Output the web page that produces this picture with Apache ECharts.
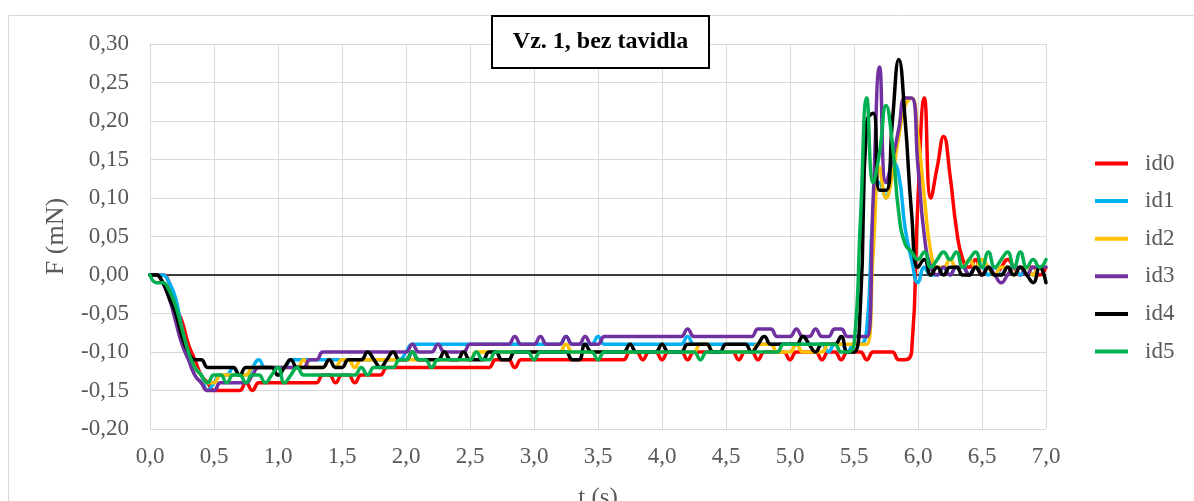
<!DOCTYPE html>
<html>
<head>
<meta charset="utf-8">
<script src="https://cdn.jsdelivr.net/npm/echarts@6/dist/echarts.min.js"></script>
<style>
html,body{margin:0;padding:0;background:#ffffff;}
#chart{width:1194px;height:501px;}
</style>
</head>
<body>
<div id="chart"></div>
<script>
const chartTitle = 'Vz. 1, bez tavidla';
const xAxisName = 't (s)';
const yAxisName = 'F (mN)';
const seriesNames = ['id0', 'id1', 'id2', 'id3', 'id4', 'id5'];
const seriesColors = ['#FF0000', '#00B0F0', '#FFC000', '#7030A0', '#000000', '#00B050'];

const timeS = [
  0, 0.05, 0.1, 0.15, 0.2, 0.25, 0.3, 0.35, 0.4, 0.45,
  0.5, 0.55, 0.6, 0.65, 0.7, 0.75, 0.8, 0.85, 0.9, 0.95,
  1, 1.05, 1.1, 1.15, 1.2, 1.25, 1.3, 1.35, 1.4, 1.45,
  1.5, 1.55, 1.6, 1.65, 1.7, 1.75, 1.8, 1.85, 1.9, 1.95,
  2, 2.05, 2.1, 2.15, 2.2, 2.25, 2.3, 2.35, 2.4, 2.45,
  2.5, 2.55, 2.6, 2.65, 2.7, 2.75, 2.8, 2.85, 2.9, 2.95,
  3, 3.05, 3.1, 3.15, 3.2, 3.25, 3.3, 3.35, 3.4, 3.45,
  3.5, 3.55, 3.6, 3.65, 3.7, 3.75, 3.8, 3.85, 3.9, 3.95,
  4, 4.05, 4.1, 4.15, 4.2, 4.25, 4.3, 4.35, 4.4, 4.45,
  4.5, 4.55, 4.6, 4.65, 4.7, 4.75, 4.8, 4.85, 4.9, 4.95,
  5, 5.05, 5.1, 5.15, 5.2, 5.25, 5.3, 5.35, 5.4, 5.45,
  5.5, 5.55, 5.6, 5.65, 5.7, 5.75, 5.8, 5.85, 5.9, 5.95,
  6, 6.05, 6.1, 6.15, 6.2, 6.25, 6.3, 6.35, 6.4, 6.45,
  6.5, 6.55, 6.6, 6.65, 6.7, 6.75, 6.8, 6.85, 6.9, 6.95,
  7
];

const id0 = [
  0, 0, 0, -0.01, -0.04, -0.06, -0.09, -0.11, -0.13, -0.14,
  -0.15, -0.15, -0.15, -0.15, -0.15, -0.14, -0.15, -0.14, -0.14, -0.14,
  -0.14, -0.14, -0.14, -0.14, -0.14, -0.14, -0.14, -0.13, -0.13, -0.14,
  -0.13, -0.13, -0.14, -0.13, -0.13, -0.13, -0.13, -0.12, -0.12, -0.12,
  -0.12, -0.12, -0.12, -0.12, -0.12, -0.12, -0.12, -0.12, -0.12, -0.12,
  -0.12, -0.12, -0.12, -0.12, -0.11, -0.11, -0.11, -0.12, -0.11, -0.11,
  -0.11, -0.11, -0.11, -0.11, -0.11, -0.11, -0.11, -0.11, -0.11, -0.11,
  -0.11, -0.11, -0.11, -0.11, -0.11, -0.10, -0.10, -0.11, -0.10, -0.10,
  -0.11, -0.10, -0.10, -0.10, -0.11, -0.10, -0.10, -0.10, -0.10, -0.10,
  -0.10, -0.10, -0.11, -0.10, -0.10, -0.11, -0.10, -0.10, -0.10, -0.10,
  -0.11, -0.10, -0.10, -0.10, -0.10, -0.11, -0.10, -0.10, -0.11, -0.10,
  -0.10, -0.10, -0.11, -0.10, -0.10, -0.10, -0.10, -0.11, -0.11, -0.10,
  0.10, 0.23, 0.10, 0.14, 0.18, 0.13, 0.06, 0.02, 0.01, 0.02,
  0.00, 0.01, 0.00, 0.01, 0.02, 0.01, 0.00, 0.01, 0.01, 0.00,
  0.01
];

const id1 = [
  0, 0, 0, -0.01, -0.03, -0.07, -0.10, -0.12, -0.13, -0.15,
  -0.14, -0.13, -0.13, -0.12, -0.13, -0.13, -0.12, -0.11, -0.12, -0.12,
  -0.12, -0.12, -0.11, -0.11, -0.11, -0.11, -0.11, -0.11, -0.11, -0.11,
  -0.11, -0.11, -0.11, -0.11, -0.11, -0.11, -0.11, -0.11, -0.11, -0.11,
  -0.10, -0.09, -0.09, -0.09, -0.09, -0.09, -0.09, -0.09, -0.09, -0.09,
  -0.09, -0.09, -0.09, -0.09, -0.09, -0.09, -0.09, -0.09, -0.09, -0.09,
  -0.09, -0.09, -0.09, -0.09, -0.09, -0.08, -0.09, -0.09, -0.09, -0.09,
  -0.08, -0.09, -0.09, -0.09, -0.09, -0.09, -0.09, -0.09, -0.09, -0.09,
  -0.09, -0.09, -0.09, -0.09, -0.08, -0.09, -0.09, -0.09, -0.09, -0.09,
  -0.09, -0.09, -0.09, -0.09, -0.09, -0.09, -0.09, -0.09, -0.09, -0.09,
  -0.09, -0.09, -0.09, -0.09, -0.09, -0.09, -0.10, -0.09, -0.09, -0.10,
  -0.09, -0.09, -0.07, 0.08, 0.12, 0.10, 0.15, 0.13, 0.06, 0.02,
  -0.01, 0.01, 0.00, 0.00, 0.01, 0.00, 0.01, 0.01, 0.00, 0.01,
  0.01, 0.00, 0.01, 0.00, 0.01, 0.01, 0.00, 0.01, 0.00, 0.01,
  0.01
];

const id2 = [
  0, 0, -0.01, -0.02, -0.05, -0.08, -0.10, -0.12, -0.13, -0.14,
  -0.14, -0.13, -0.13, -0.13, -0.13, -0.13, -0.12, -0.12, -0.12, -0.12,
  -0.12, -0.12, -0.12, -0.12, -0.11, -0.12, -0.12, -0.12, -0.11, -0.12,
  -0.11, -0.11, -0.12, -0.11, -0.11, -0.11, -0.11, -0.11, -0.11, -0.11,
  -0.11, -0.11, -0.11, -0.11, -0.11, -0.11, -0.11, -0.11, -0.11, -0.11,
  -0.11, -0.10, -0.10, -0.10, -0.10, -0.10, -0.10, -0.10, -0.10, -0.10,
  -0.10, -0.10, -0.10, -0.10, -0.10, -0.09, -0.10, -0.10, -0.10, -0.10,
  -0.10, -0.10, -0.10, -0.10, -0.10, -0.10, -0.10, -0.10, -0.10, -0.10,
  -0.10, -0.10, -0.10, -0.10, -0.10, -0.10, -0.09, -0.09, -0.10, -0.10,
  -0.10, -0.10, -0.10, -0.10, -0.10, -0.09, -0.09, -0.09, -0.10, -0.10,
  -0.10, -0.09, -0.10, -0.10, -0.10, -0.10, -0.09, -0.09, -0.09, -0.09,
  -0.09, -0.09, -0.09, 0.03, 0.14, 0.10, 0.13, 0.18, 0.22, 0.23,
  0.18, 0.10, 0.03, 0.01, 0.01, 0.02, 0.01, 0.01, 0.02, 0.01,
  0.02, 0.01, 0.00, 0.01, 0.01, 0.00, 0.01, 0.01, 0.00, 0.01,
  0.01
];

const id3 = [
  0, 0, -0.01, -0.03, -0.06, -0.09, -0.11, -0.13, -0.14, -0.15,
  -0.15, -0.14, -0.14, -0.14, -0.14, -0.14, -0.13, -0.12, -0.12, -0.12,
  -0.12, -0.12, -0.12, -0.12, -0.12, -0.11, -0.11, -0.10, -0.10, -0.10,
  -0.10, -0.10, -0.10, -0.10, -0.10, -0.10, -0.10, -0.10, -0.10, -0.10,
  -0.10, -0.09, -0.10, -0.10, -0.10, -0.09, -0.10, -0.10, -0.10, -0.10,
  -0.09, -0.09, -0.09, -0.09, -0.09, -0.09, -0.09, -0.08, -0.09, -0.09,
  -0.09, -0.08, -0.09, -0.09, -0.09, -0.08, -0.09, -0.09, -0.08, -0.09,
  -0.09, -0.08, -0.08, -0.08, -0.08, -0.08, -0.08, -0.08, -0.08, -0.08,
  -0.08, -0.08, -0.08, -0.08, -0.07, -0.08, -0.08, -0.08, -0.08, -0.08,
  -0.08, -0.08, -0.08, -0.08, -0.08, -0.07, -0.07, -0.07, -0.08, -0.08,
  -0.08, -0.07, -0.08, -0.08, -0.07, -0.08, -0.08, -0.07, -0.07, -0.08,
  -0.08, -0.08, -0.08, 0.10, 0.27, 0.12, 0.15, 0.19, 0.23, 0.23,
  0.14, 0.05, 0.01, 0.00, 0.01, 0.00, 0.01, 0.01, 0.00, 0.01,
  0.00, 0.01, 0.00, -0.01, 0.00, 0.01, 0.01, 0.00, 0.01, 0.01,
  0.01
];

const id4 = [
  0, 0, -0.01, -0.03, -0.05, -0.08, -0.10, -0.11, -0.11, -0.12,
  -0.12, -0.12, -0.12, -0.12, -0.13, -0.12, -0.12, -0.12, -0.12, -0.12,
  -0.13, -0.12, -0.11, -0.12, -0.12, -0.12, -0.12, -0.12, -0.11, -0.12,
  -0.12, -0.11, -0.11, -0.11, -0.10, -0.11, -0.12, -0.11, -0.10, -0.11,
  -0.11, -0.10, -0.11, -0.11, -0.11, -0.11, -0.10, -0.11, -0.11, -0.10,
  -0.11, -0.11, -0.11, -0.10, -0.10, -0.11, -0.11, -0.10, -0.10, -0.10,
  -0.10, -0.10, -0.10, -0.10, -0.10, -0.10, -0.11, -0.11, -0.09, -0.10,
  -0.10, -0.10, -0.10, -0.10, -0.10, -0.09, -0.10, -0.10, -0.10, -0.10,
  -0.09, -0.10, -0.10, -0.10, -0.09, -0.09, -0.09, -0.09, -0.10, -0.10,
  -0.09, -0.09, -0.09, -0.09, -0.10, -0.09, -0.08, -0.09, -0.09, -0.09,
  -0.09, -0.09, -0.08, -0.09, -0.10, -0.09, -0.09, -0.09, -0.08, -0.10,
  -0.10, -0.04, 0.20, 0.21, 0.11, 0.11, 0.20, 0.28, 0.20, 0.08,
  0.01, 0.02, 0.00, 0.01, 0.00, 0.01, 0.01, 0.00, 0.00, 0.01,
  0.00, 0.01, 0.00, 0.00, 0.01, 0.00, 0.01, 0.00, -0.01, 0.01,
  -0.01
];

const id5 = [
  0, -0.01, -0.01, -0.02, -0.04, -0.07, -0.10, -0.12, -0.13, -0.14,
  -0.13, -0.13, -0.14, -0.13, -0.13, -0.14, -0.13, -0.13, -0.14, -0.13,
  -0.12, -0.14, -0.13, -0.12, -0.13, -0.13, -0.13, -0.13, -0.13, -0.13,
  -0.13, -0.13, -0.13, -0.12, -0.13, -0.12, -0.12, -0.12, -0.12, -0.11,
  -0.11, -0.10, -0.11, -0.11, -0.12, -0.11, -0.11, -0.11, -0.11, -0.11,
  -0.11, -0.10, -0.11, -0.11, -0.10, -0.10, -0.10, -0.10, -0.10, -0.10,
  -0.11, -0.10, -0.10, -0.10, -0.10, -0.10, -0.10, -0.10, -0.10, -0.10,
  -0.11, -0.10, -0.10, -0.10, -0.10, -0.10, -0.10, -0.10, -0.10, -0.10,
  -0.10, -0.10, -0.10, -0.10, -0.10, -0.10, -0.11, -0.10, -0.10, -0.10,
  -0.10, -0.10, -0.10, -0.10, -0.10, -0.10, -0.10, -0.10, -0.10, -0.09,
  -0.09, -0.09, -0.09, -0.09, -0.09, -0.09, -0.09, -0.09, -0.10, -0.10,
  -0.09, 0.07, 0.23, 0.12, 0.16, 0.22, 0.17, 0.08, 0.04, 0.03,
  0.02, 0.03, 0.01, 0.02, 0.03, 0.02, 0.03, 0.01, 0.02, 0.03,
  0.01, 0.03, 0.01, 0.02, 0.03, 0.01, 0.03, 0.01, 0.02, 0.01,
  0.02
];

const seriesValues = [id0, id1, id2, id3, id4, id5];

const serif = "'Liberation Serif', 'Times New Roman', serif";
const labelGray = '#595959';
const gridGray = '#d9d9d9';

const series = seriesNames.map(function (name, i) {
  const s = {
    name: name,
    type: 'line',
    data: timeS.map(function (t, j) { return [t, seriesValues[i][j]]; }),
    smooth: 0.5,
    showSymbol: false,
    symbol: 'none',
    lineStyle: { width: 3.5, color: seriesColors[i], cap: 'round', join: 'round' },
    itemStyle: { color: seriesColors[i] },
    emphasis: { disabled: true },
    z: 3 + i
  };
  if (i === 0) {
    s.markLine = {
      silent: true,
      symbol: ['none', 'none'],
      label: { show: false },
      lineStyle: { color: '#000000', width: 1.5, type: 'solid' },
      data: [{ yAxis: 0 }],
      z: 1
    };
  }
  return s;
});

const chart = echarts.init(document.getElementById('chart'), null, { renderer: 'canvas' });
chart.setOption({
  animation: false,
  backgroundColor: '#ffffff',
  grid: {
    left: 150, right: 148, top: 44, bottom: 72,
    containLabel: false,
    outerBoundsMode: 'none'
  },
  xAxis: {
    type: 'value',
    min: 0, max: 7, interval: 0.5,
    name: xAxisName,
    nameLocation: 'middle',
    nameGap: 57,
    nameTextStyle: { fontFamily: serif, fontSize: 25, color: labelGray },
    axisLine: { show: true, lineStyle: { color: gridGray, width: 1 } },
    axisTick: { show: false },
    splitLine: { show: true, lineStyle: { color: gridGray, width: 1 } },
    axisLabel: {
      margin: 16,
      fontFamily: serif, fontSize: 23, color: labelGray,
      formatter: function (v) { return v.toFixed(1).replace('.', ','); }
    }
  },
  yAxis: {
    type: 'value',
    min: -0.2, max: 0.3, interval: 0.05,
    name: yAxisName,
    nameLocation: 'middle',
    nameGap: 81,
    nameTextStyle: { fontFamily: serif, fontSize: 26, color: labelGray },
    axisLine: { show: true, lineStyle: { color: gridGray, width: 1 } },
    axisTick: { show: false },
    splitLine: { show: true, lineStyle: { color: gridGray, width: 1 } },
    axisLabel: {
      margin: 21,
      fontFamily: serif, fontSize: 23, color: labelGray,
      formatter: function (v) { return v.toFixed(2).replace('.', ','); }
    }
  },
  legend: {
    orient: 'vertical',
    left: 1090,
    top: 147,
    icon: 'rect',
    itemWidth: 33,
    itemHeight: 4,
    itemGap: 14.6,
    selectedMode: false,
    data: seriesNames,
    textStyle: { fontFamily: serif, fontSize: 23, color: labelGray, lineHeight: 22, padding: [0, 0, 0, 12] }
  },
  graphic: [
    {
      type: 'rect', silent: true, z: -10,
      shape: { x: 8.5, y: 15.5, width: 1300, height: 700 },
      style: { fill: null, stroke: gridGray, lineWidth: 1 }
    },
    {
      type: 'rect', silent: true, z: 100,
      shape: { x: 492, y: 16, width: 217, height: 52 },
      style: { fill: '#ffffff', stroke: '#000000', lineWidth: 2 }
    },
    {
      type: 'text', silent: true, z: 101,
      x: 600.5, y: 42,
      style: {
        text: chartTitle,
        fontFamily: serif, fontSize: 24, fontWeight: 'bold',
        fill: '#000000', align: 'center', verticalAlign: 'middle'
      }
    }
  ],
  series: series
});
</script>
</body>
</html>
